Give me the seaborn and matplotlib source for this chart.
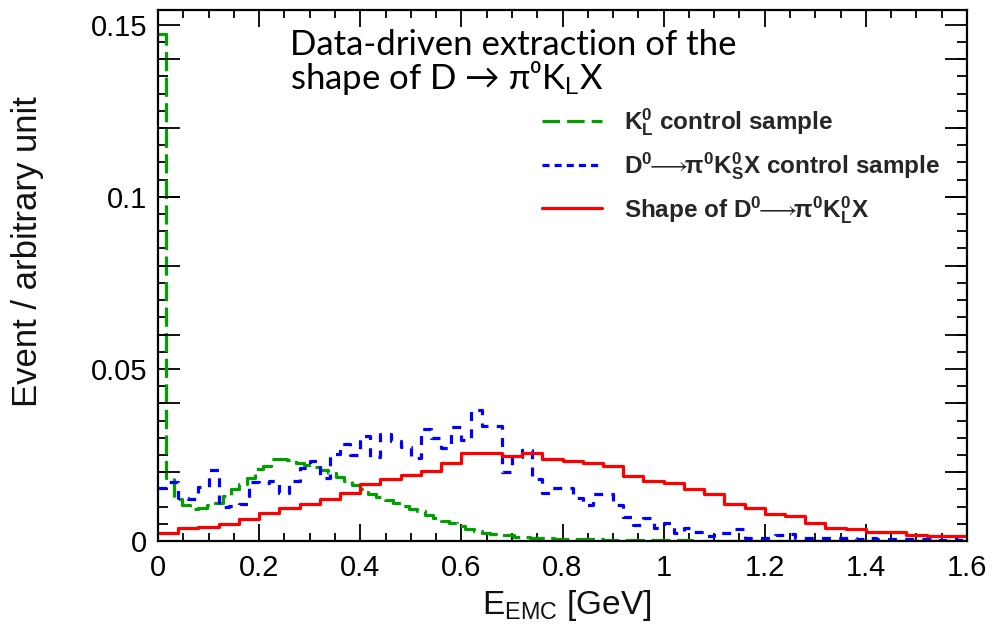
import numpy as np
import pandas as pd
import matplotlib
matplotlib.use("Agg")
import matplotlib.pyplot as plt
import seaborn as sns
from matplotlib.lines import Line2D
from matplotlib.ticker import MultipleLocator, FixedLocator, FixedFormatter, FuncFormatter

# ---------------- data ----------------
x_range = (0.0, 1.6)

# K_L^0 control sample (bin width 0.016)
green_vals = [
    0.1474, 0.0184, 0.0121, 0.0105, 0.0092, 0.0097, 0.0105, 0.0110, 0.0131, 0.0150,
    0.0165, 0.0184, 0.0208, 0.0218, 0.0237, 0.0237, 0.0235, 0.0228, 0.0220, 0.0214,
    0.0207, 0.0199, 0.0186, 0.0175, 0.0162, 0.0150, 0.0138, 0.0128, 0.0120, 0.0110,
    0.0102, 0.0094, 0.0087, 0.0076, 0.0068, 0.0059, 0.0052, 0.0044, 0.0034, 0.0029,
    0.0024, 0.0021, 0.0018, 0.0016, 0.0013, 0.0012, 0.0010, 0.0009, 0.0008, 0.0007,
    0.0006, 0.0006, 0.0005, 0.0005, 0.0005, 0.0004, 0.0004, 0.0004, 0.0003, 0.0003,
    0.0003, 0.0003, 0.0002, 0.0002, 0.0002, 0.0002, 0.0001, 0.0001, 0.0001, 0.0001,
    0.0001, 0.0001, 0.0001, 0.0001, 0.0001, 0.0001, 0.0001, 0.0001, 0.0001, 0.0001,
    0.0001, 0.0001, 0.0001, 0.0001, 0.0001, 0.0001, 0.0001, 0.0001, 0.0001, 0.0001,
    0.0001, 0.0001, 0.0001, 0.0001, 0.0001, 0.0001, 0.0001, 0.0001, 0.0001, 0.0001,
]

# D0 -> pi0 K_S^0 X control sample (bin width 0.02)
blue_vals = [
    0.0155, 0.0170, 0.0124, 0.0122, 0.0157, 0.0205, 0.0099, 0.0102, 0.0108, 0.0170,
    0.0168, 0.0174, 0.0140, 0.0174, 0.0211, 0.0233, 0.0182, 0.0254, 0.0283, 0.0250,
    0.0305, 0.0244, 0.0312, 0.0291, 0.0273, 0.0240, 0.0325, 0.0300, 0.0271, 0.0330,
    0.0293, 0.0380, 0.0334, 0.0334, 0.0200, 0.0245, 0.0264, 0.0180, 0.0140, 0.0153,
    0.0155, 0.0125, 0.0105, 0.0136, 0.0136, 0.0105, 0.0070, 0.0047, 0.0068, 0.0039,
    0.0052, 0.0022, 0.0039, 0.0025, 0.0015, 0.0024, 0.0024, 0.0034, 0.0010, 0.0008,
    0.0008, 0.0017, 0.0019, 0.0010, 0.0010, 0.0009, 0.0010, 0.0008, 0.0008, 0.0007,
    0.0008, 0.0006, 0.0007, 0.0006, 0.0005, 0.0006, 0.0005, 0.0004, 0.0005, 0.0004,
]

# Shape of D0 -> pi0 K_L^0 X (bin width 0.04)
red_vals = [
    0.0024, 0.0039, 0.0040, 0.0048, 0.0063, 0.0082, 0.0097, 0.0108, 0.0121, 0.0140,
    0.0165, 0.0179, 0.0192, 0.0204, 0.0228, 0.0255, 0.0256, 0.0247, 0.0257, 0.0237,
    0.0233, 0.0228, 0.0218, 0.0189, 0.0174, 0.0169, 0.0150, 0.0136, 0.0107, 0.0097,
    0.0078, 0.0073, 0.0053, 0.0039, 0.0034, 0.0027, 0.0027, 0.0017, 0.0015, 0.0015,
]

x_ticks_major = [0, 0.2, 0.4, 0.6, 0.8, 1.0, 1.2, 1.4, 1.6]
y_tick_labels = ["0", "0.05", "0.1", "0.15"]
y_tick_values = [0.0, 0.05, 0.10, 0.15]

legend_labels = [
    r"$\mathbf{K^0_L}$ control sample",
    r"$\mathbf{D^0}\!\!\longrightarrow\!\!\mathbf{π^0K^0_S}$X control sample",
    r"Shape of $\mathbf{D^0}\!\!\longrightarrow\!\!\mathbf{π^0K^0_L}$X",
]

# ---------------- style ----------------
sns.set_theme(style="white")
plt.rcParams["font.family"] = ["Liberation Sans", "DejaVu Sans"]
plt.rcParams["mathtext.fontset"] = "custom"
plt.rcParams["mathtext.rm"] = "Liberation Sans"
plt.rcParams["mathtext.bf"] = "Liberation Sans:bold"
plt.rcParams["mathtext.it"] = "Liberation Sans:italic"
plt.rcParams["mathtext.fallback"] = "stixsans"

GREEN = "#00a000"
BLUE = "#0000ff"
RED = "#ff0000"

W, H = 994, 624
fig = plt.figure(figsize=(W / 100, H / 100), dpi=100)
ax = fig.add_axes([158 / W, 1 - 541 / H, (967 - 158) / W, (541 - 10) / H])


def step_df(vals):
    n = len(vals)
    edges = np.linspace(x_range[0], x_range[1], n + 1)
    heights = np.append(np.asarray(vals, dtype=float), vals[-1])
    return pd.DataFrame({"E": edges, "h": heights})


lw = 2.3
sns.lineplot(data=step_df(green_vals), x="E", y="h", drawstyle="steps-post", color=GREEN,
             linewidth=lw, linestyle=(0, (6, 2.0)), errorbar=None, ax=ax)
sns.lineplot(data=step_df(blue_vals), x="E", y="h", drawstyle="steps-post", color=BLUE,
             linewidth=lw, linestyle=(0, (2.8, 2.6)), errorbar=None, ax=ax)
sns.lineplot(data=step_df(red_vals), x="E", y="h", drawstyle="steps-post", color=RED,
             linewidth=lw, errorbar=None, ax=ax)

ax.set_xlim(0, 1.6)
ax.set_ylim(0, 0.1543)
ax.set_xlabel("")
ax.set_ylabel("")

# extra long ticks every 0.02 on both vertical axes (twin axis, no labels)
ax2 = ax.twinx()
ax2.set_ylim(ax.get_ylim())
ax2.yaxis.set_major_locator(MultipleLocator(0.02))
ax2.yaxis.set_minor_locator(FixedLocator([]))
ax2.tick_params(axis="y", which="major", direction="in", length=16, width=1.3,
                left=True, right=True, labelleft=False, labelright=False, color="black")
for s in ax2.spines.values():
    s.set_visible(False)
ax2.grid(False)

for s in ax.spines.values():
    s.set_visible(True)
    s.set_color("black")
    s.set_linewidth(1.6)

ax.xaxis.set_major_locator(FixedLocator(x_ticks_major))
ax.xaxis.set_minor_locator(MultipleLocator(0.05))
ax.xaxis.set_major_formatter(FuncFormatter(lambda v, p: f"{v:g}"))
ax.yaxis.set_major_locator(FixedLocator(y_tick_values))
ax.yaxis.set_major_formatter(FixedFormatter(y_tick_labels))
ax.yaxis.set_minor_locator(MultipleLocator(0.005))

ax.tick_params(axis="both", which="both", direction="in", top=True, right=True,
               bottom=True, left=True, labelright=False, labeltop=False,
               color="black", width=1.3, labelsize=21, labelcolor="black")
ax.tick_params(axis="x", which="major", length=12, pad=9)
ax.tick_params(axis="x", which="minor", length=6)
ax.tick_params(axis="y", which="major", length=16, pad=8)
ax.tick_params(axis="y", which="minor", length=7)

# axis titles
fig.text(567 / W, 1 - 614 / H, r"E$_{\mathrm{EMC}}$ [GeV]", ha="center", va="baseline",
         fontsize=24, color="#111111")
fig.text(28 / W, 1 - 252 / H, "Event / arbitrary unit", rotation=90, ha="center",
         va="center", fontsize=25, color="#111111")

# annotation
fig.text(290 / W, 1 - 29 / H, "Data-driven extraction of the\nshape of D → π⁰K$_{\\mathrm{L}}$X",
         ha="left", va="top", fontsize=25, family=["Lato", "DejaVu Sans"],
         linespacing=0.92, color="black")

# legend
handles = [
    Line2D([], [], color=GREEN, lw=lw, dashes=(5.5, 2.2)),
    Line2D([], [], color=BLUE, lw=lw, dashes=(2.2, 1.6)),
    Line2D([], [], color=RED, lw=lw),
]
leg = ax.legend(handles, legend_labels, loc="upper left", bbox_to_anchor=(530 / W, 1 - 94 / H),
                bbox_transform=fig.transFigure, frameon=False, prop={"weight": "bold", "size": 17.5},
                handlelength=2.47, handletextpad=0.9, labelspacing=0.5, borderpad=0.0)

fig.savefig("out.png", dpi=100)
